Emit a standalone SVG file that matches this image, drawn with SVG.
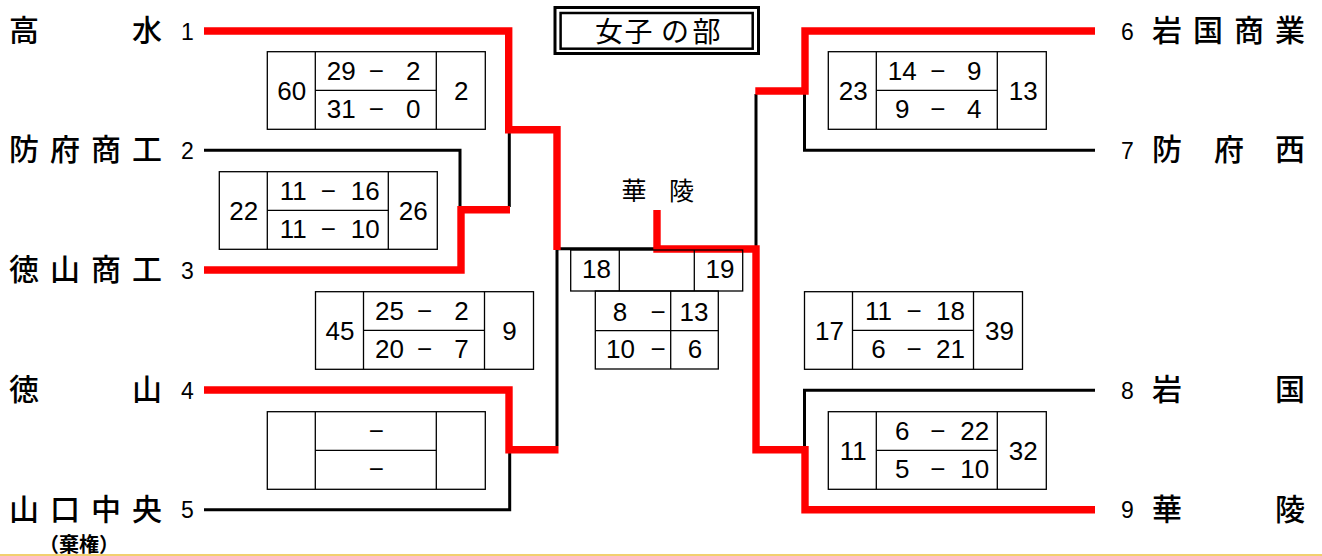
<svg xmlns="http://www.w3.org/2000/svg" width="1322" height="556" viewBox="0 0 1322 556">
<style>
.bg{fill:#fff}
.cell{fill:none;stroke:#000;stroke-width:1.3}
.red{fill:none;stroke:#f00;stroke-width:7.4;stroke-linejoin:miter;stroke-linecap:butt}
.blk{fill:none;stroke:#000;stroke-width:3;stroke-linejoin:miter;stroke-linecap:butt}
.n{font-family:"Liberation Sans",Arial,sans-serif;font-size:26px;text-anchor:middle;fill:#000}
.num{font-family:"Liberation Sans",Arial,sans-serif;font-size:23px;text-anchor:middle;fill:#000}
.jp{font-family:"Noto Sans CJK JP","Noto Sans CJK SC",sans-serif;font-size:30px;text-anchor:middle;fill:#000;font-weight:500}
.title{font-family:"Noto Sans CJK JP","Noto Sans CJK SC",sans-serif;font-size:28px;text-anchor:middle;fill:#000}
.small{font-family:"Noto Sans CJK JP","Noto Sans CJK SC",sans-serif;font-size:20px;text-anchor:middle;fill:#000;font-weight:bold}
</style>
<defs>
<g id="boxframe">
<rect class="cell" x="0" y="0" width="218" height="77.6"/>
<line class="cell" x1="48" y1="0" x2="48" y2="77.6"/>
<line class="cell" x1="169" y1="0" x2="169" y2="77.6"/>
<line class="cell" x1="48" y1="38.7" x2="169" y2="38.7"/>
</g>
</defs>
<rect class="bg" x="0" y="0" width="1322" height="556"/>
<line x1="0" y1="555" x2="1322" y2="555" stroke="#EDC13F" stroke-width="1.5"/>

<g id="connectors">
<path class="blk" d="M204,150.3 H460 V207"/>
<path class="blk" d="M509.3,133 V207"/>
<path class="blk" d="M557,446 V248.7 H655"/>
<path class="blk" d="M204,509.7 H509.7 V452"/>
<path class="blk" d="M756,94 V246"/>
<path class="blk" d="M1095,150.3 H804.5 V94"/>
<path class="blk" d="M1095,390.3 H804.5 V447"/>
<path class="red" d="M204,31 H508.7 V129.7 H557 V250"/>
<path class="red" d="M204,270 H461 V209.8 H510"/>
<path class="red" d="M204,390 H509 V449.7 H558.5"/>
<path class="red" d="M657,210 V249 H756 V449.7 H805 V509.7 H1095"/>
<path class="red" d="M1095,31 H805 V91 H755.3"/>
</g>

<g id="title">
<rect x="555" y="7.5" width="203.5" height="46" fill="none" stroke="#000" stroke-width="3"/>
<rect x="560.6" y="13" width="192.1" height="35.7" fill="none" stroke="#000" stroke-width="2.5"/>
<text class="title" x="609 638.5 675 706.5" y="41.5">女子の部</text>
</g>

<g id="team1"><text class="jp" x="24 147" y="41">高水</text><text class="num" x="187.5" y="39.5">1</text></g>
<g id="team2"><text class="jp" x="24 65 106 147" y="160.3">防府商工</text><text class="num" x="187.5" y="158.8">2</text></g>
<g id="team3"><text class="jp" x="24 65 106 147" y="280">徳山商工</text><text class="num" x="187.5" y="278.5">3</text></g>
<g id="team4"><text class="jp" x="24 147" y="400">徳山</text><text class="num" x="187.5" y="398.5">4</text></g>
<g id="team5"><text class="jp" x="24 65 106 147" y="519.7">山口中央</text><text class="num" x="187.5" y="518.2">5</text><text class="small" x="79" y="551.5">（棄権）</text></g>

<g id="team6"><text class="num" x="1127.5" y="39.5">6</text><text class="jp" x="1167 1208 1249 1290" y="41">岩国商業</text></g>
<g id="team7"><text class="num" x="1127.5" y="158.8">7</text><text class="jp" x="1167 1229 1290" y="160.3">防府西</text></g>
<g id="team8"><text class="num" x="1127.5" y="398.8">8</text><text class="jp" x="1167 1290" y="400.3">岩国</text></g>
<g id="team9"><text class="num" x="1127.5" y="518.2">9</text><text class="jp" x="1167 1290" y="519.7">華陵</text></g>

<g id="winner"><text class="jp" x="634 681.5" y="199.5" style="font-size:25px;font-weight:400">華陵</text></g>

<g id="score1" transform="translate(267.3,51.7)">
<use href="#boxframe"/>
<text class="n" x="24.5" y="48.3">60</text>
<text class="n" x="74" y="28.3">29</text><text class="n" x="109" y="28.3">−</text><text class="n" x="146" y="28.3">2</text>
<text class="n" x="74" y="66.6">31</text><text class="n" x="109" y="66.6">−</text><text class="n" x="146" y="66.6">0</text>
<text class="n" x="194" y="48.3">2</text>
</g>
<g id="score2" transform="translate(219.3,171.7)">
<use href="#boxframe"/>
<text class="n" x="24.5" y="48.3">22</text>
<text class="n" x="74" y="28.3">11</text><text class="n" x="109" y="28.3">−</text><text class="n" x="146" y="28.3">16</text>
<text class="n" x="74" y="66.6">11</text><text class="n" x="109" y="66.6">−</text><text class="n" x="146" y="66.6">10</text>
<text class="n" x="194" y="48.3">26</text>
</g>
<g id="score3" transform="translate(315.5,291.7)">
<use href="#boxframe"/>
<text class="n" x="24.5" y="48.3">45</text>
<text class="n" x="74" y="28.3">25</text><text class="n" x="109" y="28.3">−</text><text class="n" x="146" y="28.3">2</text>
<text class="n" x="74" y="66.6">20</text><text class="n" x="109" y="66.6">−</text><text class="n" x="146" y="66.6">7</text>
<text class="n" x="194" y="48.3">9</text>
</g>
<g id="score4" transform="translate(267.3,411.7)">
<use href="#boxframe"/>
<text class="n" x="109" y="28.3">−</text>
<text class="n" x="109" y="66.6">−</text>
</g>
<g id="score6" transform="translate(828.3,51.7)">
<use href="#boxframe"/>
<text class="n" x="25" y="48.3">23</text>
<text class="n" x="74" y="28.3">14</text><text class="n" x="109.5" y="28.3">−</text><text class="n" x="146" y="28.3">9</text>
<text class="n" x="74" y="66.6">9</text><text class="n" x="109.5" y="66.6">−</text><text class="n" x="146" y="66.6">4</text>
<text class="n" x="195" y="48.3">13</text>
</g>
<g id="score7" transform="translate(804.5,291.7)">
<use href="#boxframe"/>
<text class="n" x="25" y="48.3">17</text>
<text class="n" x="74" y="28.3">11</text><text class="n" x="109.5" y="28.3">−</text><text class="n" x="146" y="28.3">18</text>
<text class="n" x="74" y="66.6">6</text><text class="n" x="109.5" y="66.6">−</text><text class="n" x="146" y="66.6">21</text>
<text class="n" x="195" y="48.3">39</text>
</g>
<g id="score8" transform="translate(828.3,411.7)">
<use href="#boxframe"/>
<text class="n" x="25" y="48.3">11</text>
<text class="n" x="74" y="28.3">6</text><text class="n" x="109.5" y="28.3">−</text><text class="n" x="146.5" y="28.3">22</text>
<text class="n" x="74" y="66.6">5</text><text class="n" x="109.5" y="66.6">−</text><text class="n" x="146.5" y="66.6">10</text>
<text class="n" x="195" y="48.3">32</text>
</g>
<g id="final">
<rect class="cell" x="570.7" y="250" width="172" height="41"/>
<line class="cell" x1="619.3" y1="250" x2="619.3" y2="291"/>
<line class="cell" x1="694.3" y1="250" x2="694.3" y2="291"/>
<rect class="cell" x="595.3" y="291" width="123" height="78"/>
<line class="cell" x1="670.7" y1="291" x2="670.7" y2="369"/>
<line class="cell" x1="595.3" y1="330.7" x2="718.3" y2="330.7"/>
<text class="n" x="596.5" y="278.3">18</text>
<text class="n" x="720" y="278.3">19</text>
<text class="n" x="620" y="320.5">8</text><text class="n" x="658" y="320.5">−</text><text class="n" x="694" y="320.5">13</text>
<text class="n" x="620.5" y="358.3">10</text><text class="n" x="658" y="358.3">−</text><text class="n" x="695" y="358.3">6</text>
</g>
</svg>
